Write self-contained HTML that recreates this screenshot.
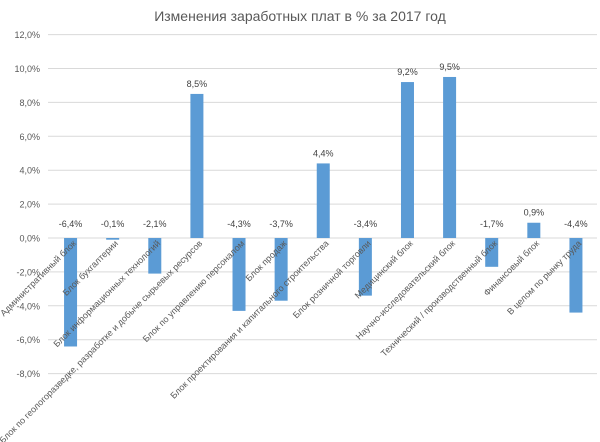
<!DOCTYPE html>
<html><head><meta charset="utf-8"><style>
body{margin:0;background:#fff;}
svg{display:block;font-family:"Liberation Sans","DejaVu Sans",sans-serif;}
</style></head><body>
<svg id="chart" width="600" height="442">
<text x="300" y="21" text-anchor="middle" font-size="14" fill="#595959">Изменения заработных плат в % за 2017 год</text>
<g id="grid"></g><g id="yt"></g><g id="bars"></g><g id="vl"></g><g id="xl"></g>
</svg>
<script>
const categories=["Административный блок","Блок бухгалтерии","Блок информационных технологий","Блок по геологоразведке, разработке и добыче сырьевых ресурсов","Блок по управлению персоналом","Блок продаж","Блок проектирования и капитального строительства","Блок розничной торговли","Медицинский блок","Научно-исследовательский блок","Технический / производственный блок","Финансовый блок","В целом по рынку труда"];
const values=[-6.4,-0.1,-2.1,8.5,-4.3,-3.7,4.4,-3.4,9.2,9.5,-1.7,0.9,-4.4];
const yTicks=[-8,-6,-4,-2,0,2,4,6,8,10,12];
const NS="http://www.w3.org/2000/svg";
const x0=49.5,x1=597,y0=238,pp=16.95;
const cw=(x1-x0)/categories.length;
const Y=v=>y0-v*pp, X=i=>x0+cw*(i+0.5);
function mk(t,a,p){const e=document.createElementNS(NS,t);for(const k in a)e.setAttribute(k,a[k]);document.getElementById(p).appendChild(e);return e;}
const fmt=v=>v.toFixed(1).replace('.',',');
yTicks.forEach(t=>{
 const l=mk('line',{x1:48,x2:x1,y1:Y(t),y2:Y(t),stroke:'#d9d9d9','stroke-width':1},'grid');
 
 
 const tx=mk('text',{x:40,y:Y(t)+3.5,'text-anchor':'end','font-size':9,fill:'#595959'},'yt');
 tx.textContent=fmt(t)+'%';
 
 
});
values.forEach((v,i)=>{
 const cx=X(i),bw=13;
 const r=mk('rect',{x:cx-bw/2,y:Math.min(Y(v),y0),width:bw,height:Math.max(Math.abs(Y(v)-y0),1),fill:'#5b9bd5'},'bars');
 
 
 const ly=v>=0?Y(v)-7:y0-11;
 const t=mk('text',{x:cx,y:ly,'text-anchor':'middle','font-size':9,fill:'#404040'},'vl');
 t.textContent=fmt(v)+'%';
 
 
 const lx=cx+6,lyy=y0+6;
 const c=mk('text',{x:lx,y:lyy,'text-anchor':'end','font-size':9,fill:'#595959',transform:'rotate(-45 '+lx+' '+lyy+')'},'xl');
 c.textContent=categories[i];
 
 
});
</script>
</body></html>
